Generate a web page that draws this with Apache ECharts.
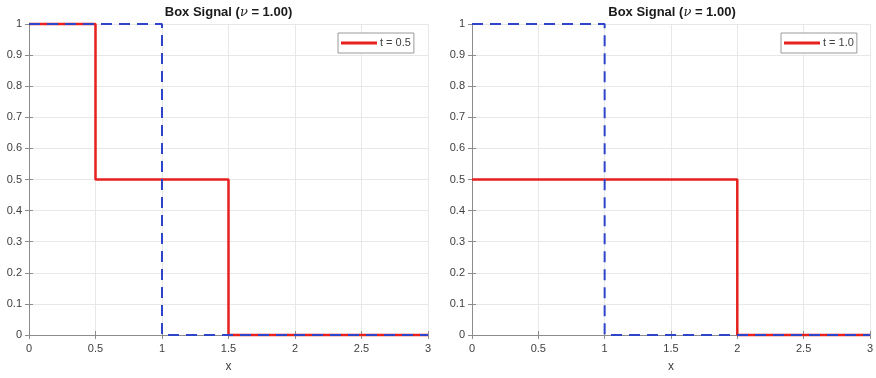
<!DOCTYPE html>
<html>
<head>
<meta charset="utf-8">
<script src="https://cdn.jsdelivr.net/npm/echarts@6/dist/echarts.min.js"></script>
<style>
  html, body { margin: 0; padding: 0; background: #fff; }
  #chart { width: 876px; height: 378px; }
</style>
</head>
<body>
<div id="chart"></div>
<script>
// Initial box profile (dashed) and advected profiles at two times
const initialX = [0, 1, 1, 3];
const initialY = [1, 1, 0, 0];
const t05X = [0, 0.5, 0.5, 1.5, 1.5, 3];
const t05Y = [1, 1, 0.5, 0.5, 0, 0];
const t10X = [0, 2, 2, 3];
const t10Y = [0.5, 0.5, 0, 0];
const panelLabels = ['t = 0.5', 't = 1.0'];
const titleText = 'Box Signal ({i|ν} = 1.00)';

const zip = (xs, ys) => xs.map((x, i) => [x, ys[i]]);

const RED = '#e6211e';
const BLUE = '#2f45c9';
const AXIS = '#8c8c8c';
const TEXT = '#404040';
const FONT = 'Liberation Sans, Arial, sans-serif';

const grids = [
  { left: 29, top: 24, width: 399, height: 314 },
  { left: 472, top: 24, width: 400, height: 314 }
];

function xAxes(gi) {
  return [
    {
      type: 'value', gridIndex: gi, min: 0, max: 3, interval: 0.5, position: 'bottom',
      name: 'x', nameLocation: 'middle', nameGap: 26,
      nameTextStyle: { color: TEXT, fontSize: 12, fontFamily: FONT },
      axisLine: { show: true, lineStyle: { color: AXIS, width: 1 } },
      axisTick: { show: true, inside: true, length: 4, lineStyle: { color: AXIS } },
      axisLabel: { color: TEXT, fontSize: 11, fontFamily: FONT, margin: 8 },
      splitLine: { show: true, lineStyle: { color: '#e8e8e8', width: 1 } }
    },
    {
      type: 'value', gridIndex: gi, min: 0, max: 3, interval: 0.5, position: 'top',
      axisLine: { show: true, lineStyle: { color: AXIS, width: 1 } },
      axisTick: { show: true, inside: true, length: 4, lineStyle: { color: AXIS } },
      axisLabel: { show: false },
      splitLine: { show: false }
    }
  ];
}

function yAxes(gi) {
  return [
    {
      type: 'value', gridIndex: gi, min: 0, max: 1, interval: 0.1, position: 'left',
      axisLine: { show: true, lineStyle: { color: AXIS, width: 1 } },
      axisTick: { show: true, inside: true, length: 4, lineStyle: { color: AXIS } },
      axisLabel: {
        color: TEXT, fontSize: 11, fontFamily: FONT, margin: 7,
        formatter: v => (Math.round(v * 10) / 10).toString()
      },
      splitLine: { show: true, lineStyle: { color: '#e8e8e8', width: 1 } }
    },
    {
      type: 'value', gridIndex: gi, min: 0, max: 1, interval: 0.1, position: 'right',
      axisLine: { show: true, lineStyle: { color: AXIS, width: 1 } },
      axisTick: { show: true, inside: true, length: 4, lineStyle: { color: AXIS } },
      axisLabel: { show: false },
      splitLine: { show: false }
    }
  ];
}

function solutionSeries(name, xi, yi, data) {
  return {
    name: name, type: 'line', xAxisIndex: xi, yAxisIndex: yi,
    data: data, symbol: 'none', clip: false, z: 3,
    lineStyle: { color: RED, width: 2.5 },
    itemStyle: { color: RED }
  };
}

function initialSeries(name, xi, yi) {
  return {
    name: name, type: 'line', xAxisIndex: xi, yAxisIndex: yi,
    data: zip(initialX, initialY), symbol: 'none', clip: false, z: 4,
    lineStyle: { color: BLUE, width: 2, type: [11, 7] },
    itemStyle: { color: BLUE }
  };
}

function legendFor(label, left) {
  return {
    data: [{ name: label, icon: 'rect' }], left: left, top: 33, orient: 'horizontal',
    selectedMode: false,
    borderColor: '#9a9a9a', borderWidth: 1, backgroundColor: '#fff',
    padding: [3, 3, 3, 3],
    itemWidth: 36, itemHeight: 3, itemGap: 4,
    itemStyle: { color: RED, borderWidth: 0 },
    lineStyle: { width: 0 },
    textStyle: { color: TEXT, fontSize: 11, fontFamily: FONT, padding: [0, 0, 0, -2], lineHeight: 14 }
  };
}

function titleGraphic(cx) {
  return {
    type: 'text', x: cx, y: 6, z: 10,
    style: {
      text: titleText, align: 'center', verticalAlign: 'top',
      fill: '#1a1a1a', font: 'bold 13px ' + FONT,
      rich: { i: { fontStyle: 'italic', fontWeight: 'normal', fontSize: 13, fontFamily: 'DejaVu Serif, serif', fill: '#1a1a1a' } }
    }
  };
}

const chart = echarts.init(document.getElementById('chart'), null, { renderer: 'canvas' });
chart.setOption({
  animation: false,
  backgroundColor: '#fff',
  grid: grids,
  xAxis: [...xAxes(0), ...xAxes(1)],
  yAxis: [...yAxes(0), ...yAxes(1)],
  legend: [legendFor(panelLabels[0], 338), legendFor(panelLabels[1], 781)],
  graphic: [titleGraphic(228.5), titleGraphic(672)],
  series: [
    solutionSeries(panelLabels[0], 0, 0, zip(t05X, t05Y)),
    initialSeries('initial-left', 0, 0),
    solutionSeries(panelLabels[1], 2, 2, zip(t10X, t10Y)),
    initialSeries('initial-right', 2, 2)
  ]
});
</script>
</body>
</html>
